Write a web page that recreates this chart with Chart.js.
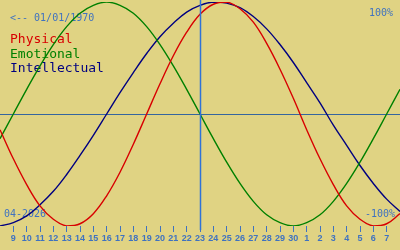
<!DOCTYPE html>
<html>

<head>
    <meta charset="UTF-8">
    <title>Biorhythm</title>
    <script src="https://cdn.jsdelivr.net/npm/chart.js"></script>
    <style>
        body { margin: 0; background: #e0d383; }
        #wrap { width: 400px; height: 250px; position: relative; }
    </style>
</head>

<body>
    <div id="wrap"><canvas id="chart"></canvas></div>
    <script>
        // dias do eixo (8 abr .. 8 mai), o primeiro e o ultimo ficam sem marca
        var dias = ['8', '9', '10', '11', '12', '13', '14', '15', '16', '17', '18', '19', '20', '21', '22',
            '23', '24', '25', '26', '27', '28', '29', '30', '1', '2', '3', '4', '5', '6', '7', '8'];
        var hoje = 15; // indice do dia 23
        var mesAno = '04-2026';
        var nascimento = '01/01/1970';

        // valores em %
        var fisico = [-14, -40, -63, -82, -94, -100, -98, -89, -73, -52, -27, 0, 27, 52, 73, 89,
            98, 100, 94, 82, 63, 40, 14, -14, -40, -63, -82, -94, -100, -98, -89];
        var emocional = [-22, 0, 22, 43, 62, 78, 90, 97, 100, 97, 90, 78, 62, 43, 22, 0,
            -22, -43, -62, -78, -90, -97, -100, -97, -90, -78, -62, -43, -22, 0, 22];
        var intelectual = [-100, -97, -91, -81, -69, -54, -37, -19, 0, 19, 37, 54, 69, 81, 91, 97,
            100, 99, 95, 87, 76, 62, 46, 28, 10, -10, -28, -46, -62, -76, -87];

        var azul = '#3f72c0';
        var mono = '"DejaVu Sans Mono", monospace';

        var textos = {
            id: 'textos',
            beforeDraw: function (chart) {
                var c = chart.ctx;
                c.save();
                c.fillStyle = '#e0d383';
                c.fillRect(0, 0, chart.width, chart.height);
                c.restore();
            },
            beforeDatasetsDraw: function (chart) {
                var c = chart.ctx;
                var y0 = Math.round(chart.scales.y.getPixelForValue(0)) + 0.5;
                c.save();
                // linha do zero
                c.strokeStyle = '#35659f';
                c.lineWidth = 1.2;
                c.beginPath();
                c.moveTo(0, y0);
                c.lineTo(chart.width, y0);
                c.stroke();

                c.textBaseline = 'alphabetic';
                c.font = '10px ' + mono;
                c.fillStyle = azul;
                c.textAlign = 'left';
                c.fillText('<-- ' + nascimento, 10, 21);
                c.fillText(mesAno, 4, 217);
                c.textAlign = 'right';
                c.fillText('100%', 393, 16);
                c.fillText('-100%', 395, 217);

                c.textAlign = 'left';
                c.font = '13px ' + mono;
                chart.data.datasets.forEach(function (ds, i) {
                    c.fillStyle = ds.borderColor;
                    c.fillText(ds.label, 10, 43 + i * 14.5);
                });
                c.restore();
            },
            afterDatasetsDraw: function (chart) {
                var c = chart.ctx;
                var x = Math.round(chart.scales.x.getPixelForValue(hoje)) + 0.5;
                c.save();
                c.strokeStyle = '#2f72d8';
                c.lineWidth = 1.5;
                c.beginPath();
                c.moveTo(x, 0);
                c.lineTo(x, chart.chartArea.bottom + 4);
                c.stroke();
                c.restore();
            }
        };

        var ctx = document.getElementById('chart').getContext('2d');
        var chart = new Chart(ctx, {
            type: 'line',
            data: {
                labels: dias,
                datasets: [
                    { label: 'Physical', data: fisico, borderColor: '#d80000' },
                    { label: 'Emotional', data: emocional, borderColor: '#008000' },
                    { label: 'Intellectual', data: intelectual, borderColor: '#000080' },
                ],
            },
            options: {
                responsive: true,
                maintainAspectRatio: false,
                animation: false,
                layout: { padding: { top: 2, left: 0, right: 0, bottom: 0 } },
                elements: {
                    point: { radius: 0 },
                    line: { borderWidth: 1.4, tension: 0.4, fill: false },
                },
                plugins: { legend: { display: false }, tooltip: { enabled: false } },
                scales: {
                    x: {
                        offset: false,
                        border: { display: false },
                        grid: { drawOnChartArea: false, drawTicks: true, tickLength: 6, color: azul, lineWidth: 1 },
                        ticks: {
                            color: azul,
                            padding: 1,
                            maxRotation: 0,
                            autoSkip: false,
                            font: { family: '"Liberation Sans", sans-serif', size: 9, weight: 'bold' },
                        },
                        afterBuildTicks: function (s) {
                            s.ticks = s.ticks.filter(function (t) { return t.value > 0 && t.value < dias.length - 1; });
                        },
                        afterFit: function (s) { s.height = 24; },
                    },
                    y: {
                        display: false,
                        min: -100,
                        max: 100,
                    },
                },
            },
            plugins: [textos],
        });
    </script>
</body>

</html>
